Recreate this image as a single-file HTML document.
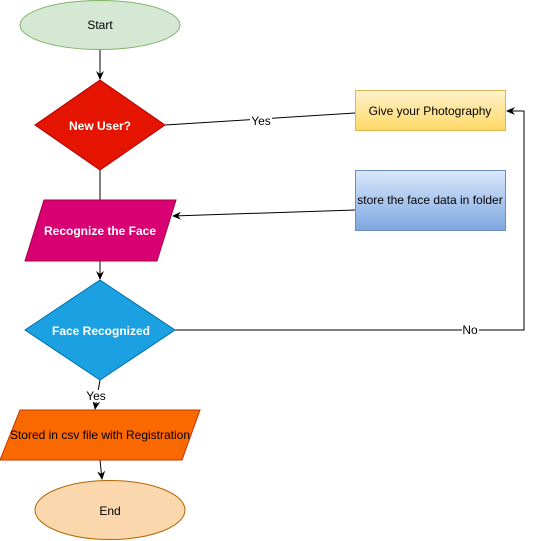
<!DOCTYPE html>
<html><head><meta charset="utf-8"><style>
html,body{margin:0;padding:0;background:#fff;}
svg{display:block;font-family:"Liberation Sans",Arial,sans-serif;font-size:12px;}
</style></head><body>
<svg width="534" height="541" viewBox="0 0 534 541" xmlns="http://www.w3.org/2000/svg">
<defs>
<linearGradient id="gy" x1="0" y1="0" x2="0" y2="1"><stop offset="0" stop-color="#fff2cc"/><stop offset="1" stop-color="#ffd966"/></linearGradient>
<linearGradient id="gb" x1="0" y1="0" x2="0" y2="1"><stop offset="0" stop-color="#dae8fc"/><stop offset="1" stop-color="#7ea6e0"/></linearGradient>
<marker id="a" markerWidth="10" markerHeight="10" refX="8" refY="5" orient="auto" markerUnits="userSpaceOnUse"><path d="M0,1 L9,5 L0,9 L3,5 Z" fill="#000"/></marker>
</defs>
<g stroke="#000" stroke-width="1" fill="none">
<line x1="100" y1="50" x2="100" y2="79" marker-end="url(#a)"/>
<line x1="165" y1="125" x2="355" y2="113"/>
<line x1="100" y1="170" x2="100" y2="200"/>
<line x1="355" y1="210" x2="173" y2="216" marker-end="url(#a)"/>
<line x1="100" y1="261" x2="100" y2="279" marker-end="url(#a)"/>
<polyline points="175,330 524,330 524,111 507,111" marker-end="url(#a)"/>
<line x1="100" y1="380" x2="95" y2="409" marker-end="url(#a)"/>
<line x1="100" y1="460" x2="102" y2="479" marker-end="url(#a)"/>
</g>
<ellipse cx="100" cy="25" rx="80" ry="24.5" fill="#d5e8d4" stroke="#82b366"/>
<text x="100" y="29" text-anchor="middle">Start</text>
<polygon points="100,80 165,125 100,170 35,125" fill="#e51400" stroke="#b20000"/>
<text x="100" y="130" text-anchor="middle" fill="#fff" font-weight="bold">New User?</text>
<rect x="355.5" y="90.5" width="150" height="40" fill="url(#gy)" stroke="#d6b656"/>
<text x="430" y="115" text-anchor="middle">Give your Photography</text>
<rect x="250" y="115" width="22" height="11" fill="#fff"/>
<text x="261" y="125" text-anchor="middle">Yes</text>
<rect x="355.5" y="170.5" width="150" height="60" fill="url(#gb)" stroke="#6c8ebf"/>
<text x="430" y="204" text-anchor="middle">store the face data in folder</text>
<polygon points="44,200 176,200 157,261 25,261" fill="#d80073" stroke="#a50040"/>
<text x="100" y="235" text-anchor="middle" fill="#fff" font-weight="bold">Recognize the Face</text>
<polygon points="100,280 175,330 100,380 25,330" fill="#1ba1e2" stroke="#006eaf"/>
<text x="101" y="335" text-anchor="middle" fill="#fff" font-weight="bold">Face Recognized</text>
<rect x="462" y="325" width="17" height="11" fill="#fff"/>
<text x="470" y="334" text-anchor="middle">No</text>
<rect x="86" y="390" width="21" height="12" fill="#fff"/>
<text x="96" y="400" text-anchor="middle">Yes</text>
<polygon points="20,410 200,410 182,460 0,460" fill="#fa6800" stroke="#c73500"/>
<text x="100" y="439" text-anchor="middle" fill="#000">Stored in csv file with Registration</text>
<ellipse cx="110" cy="510" rx="75" ry="29.5" fill="#fad7ac" stroke="#b46504"/>
<text x="110" y="515" text-anchor="middle">End</text>
</svg>
</body></html>
